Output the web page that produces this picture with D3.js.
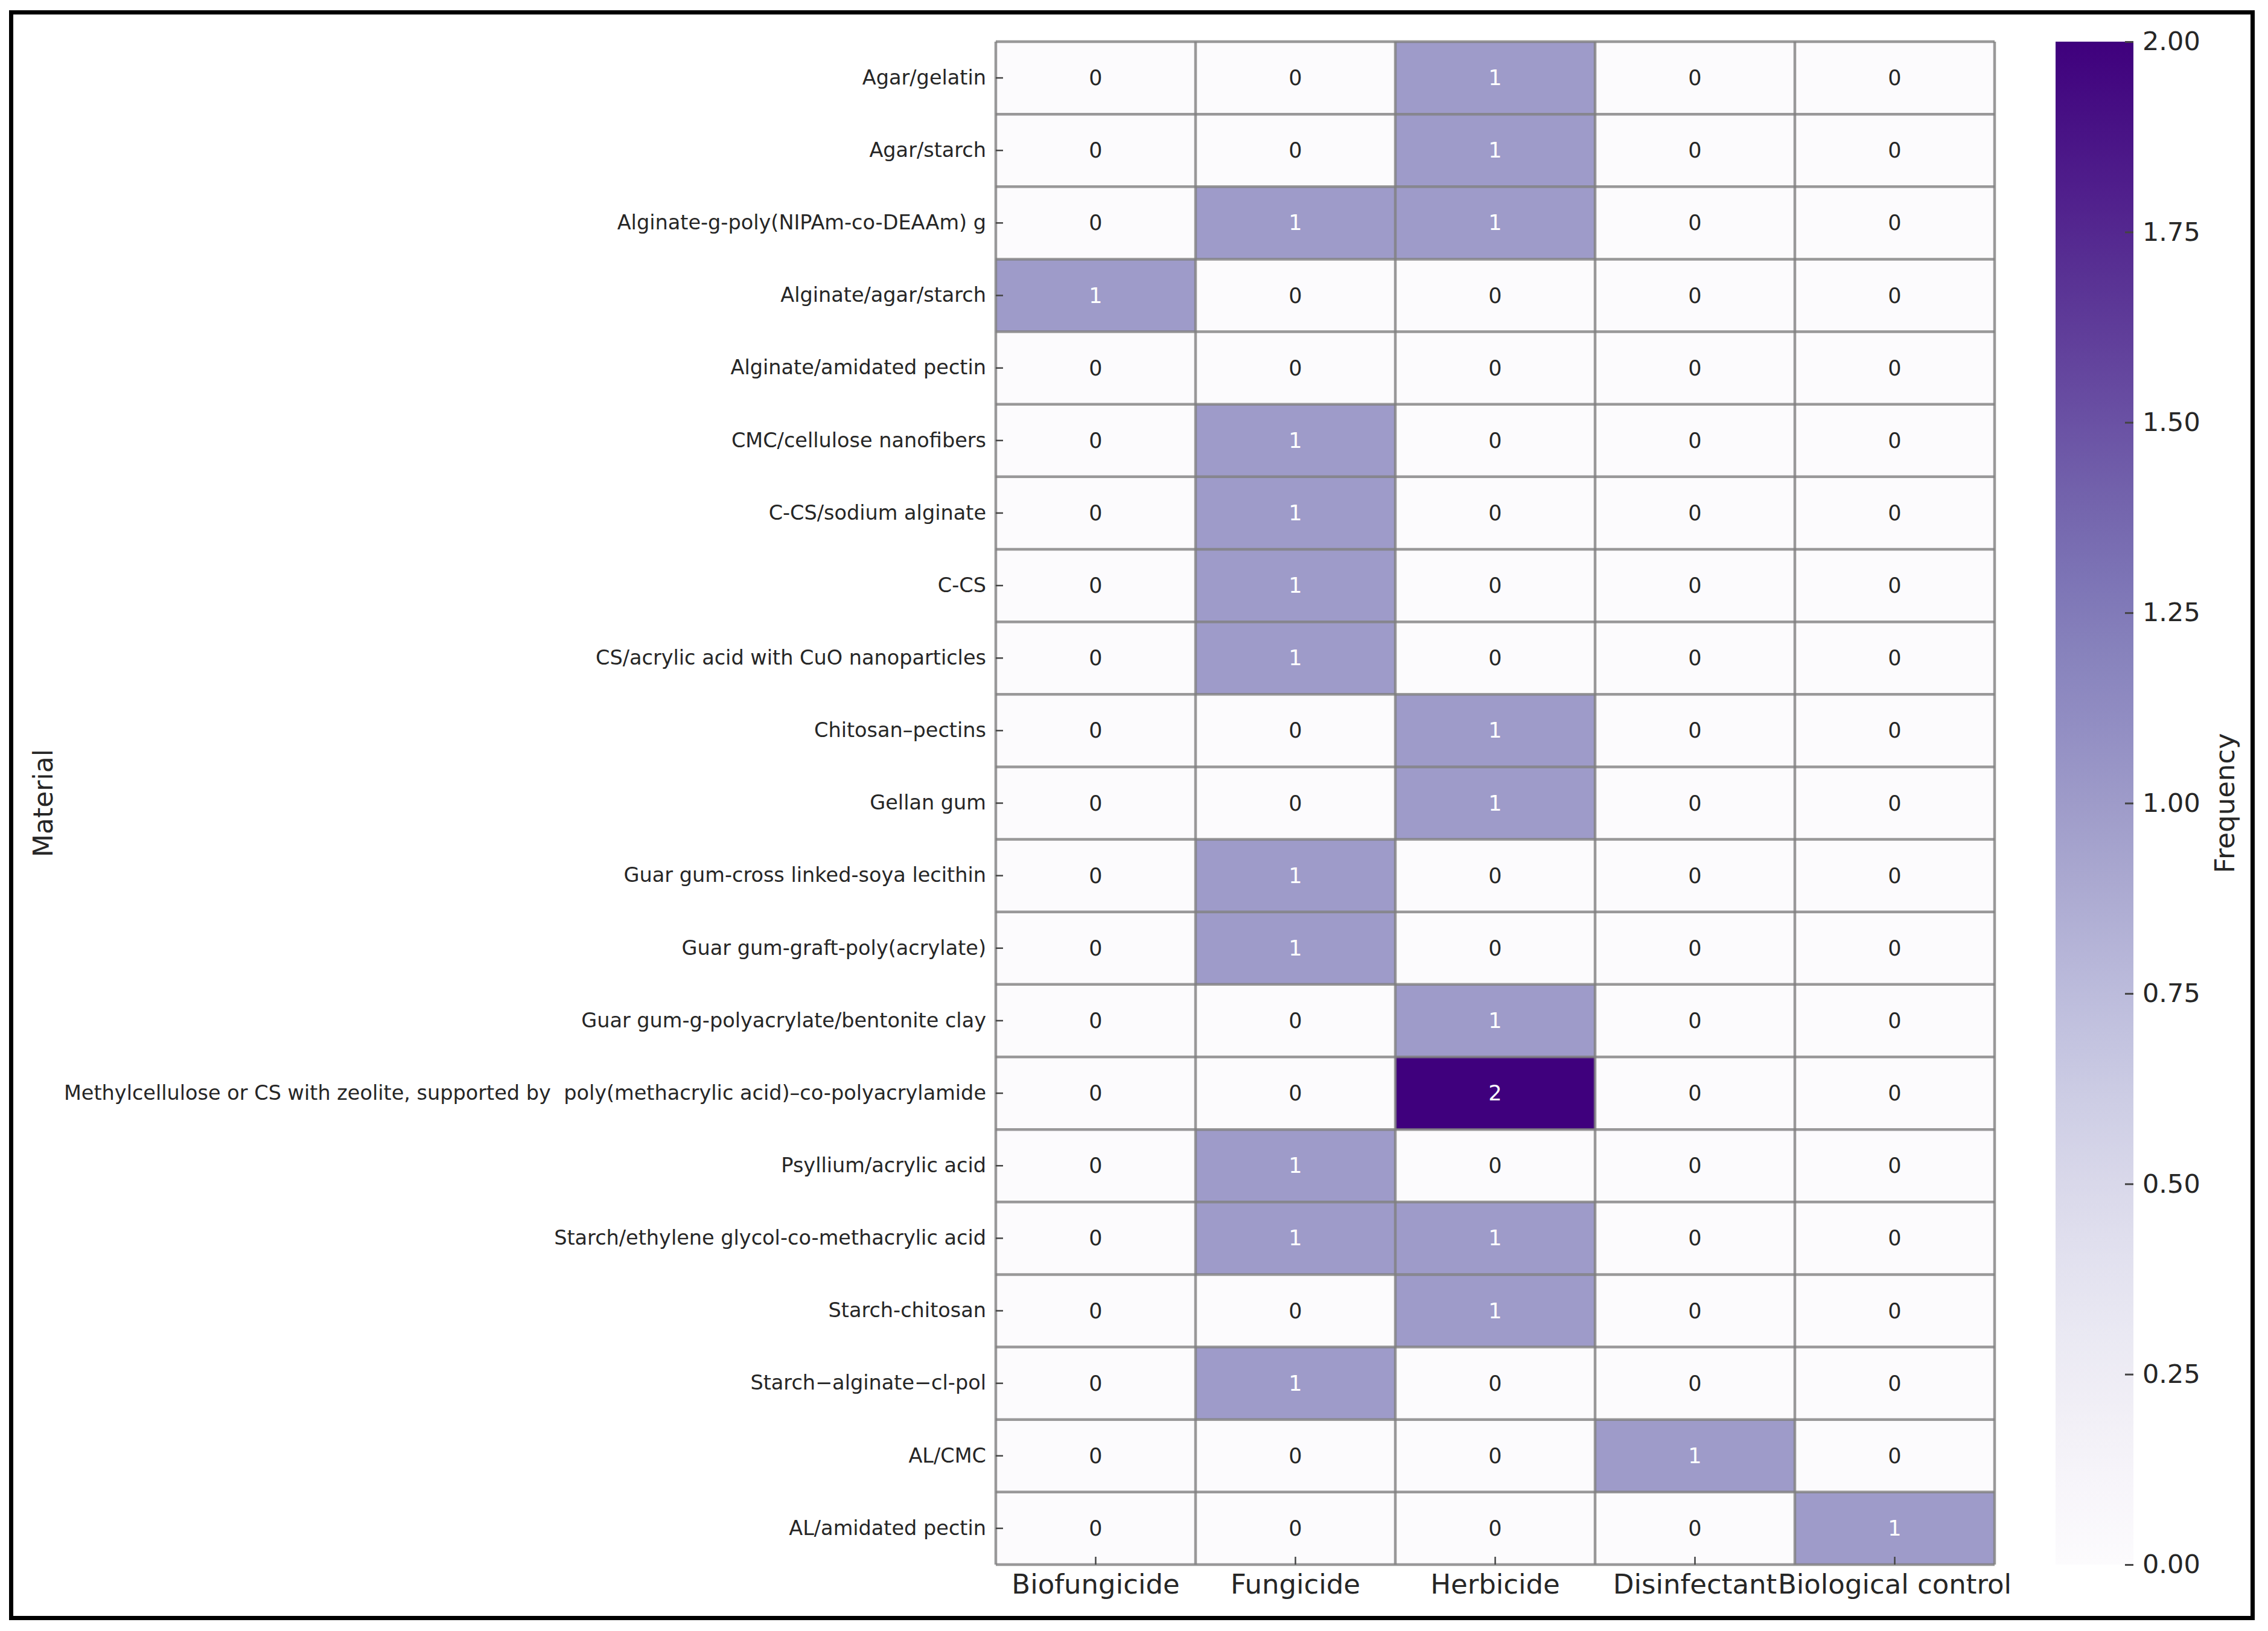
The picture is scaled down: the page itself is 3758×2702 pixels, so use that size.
<!DOCTYPE html>
<html>
<head>
<meta charset="utf-8">
<script src="https://cdn.jsdelivr.net/npm/d3@7"></script>
<style>
  body { margin: 0; background: #fff; }
  svg { display: block; font-family: "DejaVu Sans", sans-serif; }
</style>
</head>
<body>
<svg id="chart" width="3758" height="2702"></svg>
<script>
// data
const materials = [
  'Agar/gelatin',
  'Agar/starch',
  'Alginate-g-poly(NIPAm-co-DEAAm) g',
  'Alginate/agar/starch',
  'Alginate/amidated pectin',
  'CMC/cellulose nanofibers',
  'C-CS/sodium alginate',
  'C-CS',
  'CS/acrylic acid with CuO nanoparticles',
  'Chitosan\u2013pectins',
  'Gellan gum',
  'Guar gum-cross linked-soya lecithin',
  'Guar gum-graft-poly(acrylate)',
  'Guar gum-g-polyacrylate/bentonite clay',
  'Methylcellulose or CS with zeolite, supported by  poly(methacrylic acid)\u2013co-polyacrylamide',
  'Psyllium/acrylic acid',
  'Starch/ethylene glycol-co-methacrylic acid',
  'Starch-chitosan',
  'Starch\u2212alginate\u2212cl-pol',
  'AL/CMC',
  'AL/amidated pectin'
]
const uses = ['Biofungicide', 'Fungicide', 'Herbicide', 'Disinfectant', 'Biological control']
const counts = [
  [0, 0, 1, 0, 0],
  [0, 0, 1, 0, 0],
  [0, 1, 1, 0, 0],
  [1, 0, 0, 0, 0],
  [0, 0, 0, 0, 0],
  [0, 1, 0, 0, 0],
  [0, 1, 0, 0, 0],
  [0, 1, 0, 0, 0],
  [0, 1, 0, 0, 0],
  [0, 0, 1, 0, 0],
  [0, 0, 1, 0, 0],
  [0, 1, 0, 0, 0],
  [0, 1, 0, 0, 0],
  [0, 0, 1, 0, 0],
  [0, 0, 2, 0, 0],
  [0, 1, 0, 0, 0],
  [0, 1, 1, 0, 0],
  [0, 0, 1, 0, 0],
  [0, 1, 0, 0, 0],
  [0, 0, 0, 1, 0],
  [0, 0, 0, 0, 1]
]
const cbarTicks = [0, 0.25, 0.5, 0.75, 1, 1.25, 1.5, 1.75, 2]

const svg = d3.select('#chart')
const plotLeft = 1650, plotRight = 3305, plotTop = 69, plotBottom = 2592

const x = d3.scaleBand().domain(uses).range([plotLeft, plotRight])
const y = d3.scaleBand().domain(materials).range([plotTop, plotBottom])
const color = d3.scaleSequential(d3.interpolatePurples).domain([0, 2])

const cells = counts.flatMap((row, i) => row.map((v, j) => ({m: materials[i], u: uses[j], v})))

// cells
svg.append('g')
  .selectAll('rect')
  .data(cells)
  .join('rect')
  .attr('x', d => x(d.u))
  .attr('y', d => y(d.m))
  .attr('width', x.bandwidth())
  .attr('height', y.bandwidth())
  .attr('fill', d => color(d.v))

// grid lines between cells
const grid = svg.append('g')
  .attr('stroke', '#808080')
  .attr('stroke-opacity', 0.8)
  .attr('stroke-width', 4.5)
grid.selectAll('.h')
  .data(materials.map(m => y(m)).concat([plotBottom]))
  .join('line')
  .attr('class', 'h')
  .attr('x1', plotLeft).attr('x2', plotRight)
  .attr('y1', d => d).attr('y2', d => d)
grid.selectAll('.v')
  .data(uses.map(u => x(u)).concat([plotRight]))
  .join('line')
  .attr('class', 'v')
  .attr('y1', plotTop).attr('y2', plotBottom)
  .attr('x1', d => d).attr('x2', d => d)

// annotations
svg.append('g')
  .selectAll('text')
  .data(cells)
  .join('text')
  .attr('x', d => x(d.u) + x.bandwidth() / 2)
  .attr('y', d => y(d.m) + y.bandwidth() / 2)
  .attr('text-anchor', 'middle')
  .attr('dominant-baseline', 'central')
  .attr('font-size', 35)
  .attr('fill', d => d.v >= 1 ? '#ffffff' : '#262626')
  .text(d => d.v)

// axes
const yAxis = svg.append('g')
  .attr('transform', `translate(${plotLeft},0)`)
  .call(d3.axisLeft(y).tickSizeInner(-12).tickSizeOuter(0).tickPadding(16))
yAxis.select('.domain').remove()
yAxis.selectAll('.tick line').attr('stroke', '#444').attr('stroke-width', 2.5)
yAxis.selectAll('.tick text')
  .attr('font-size', 33.5).attr('font-family', 'DejaVu Sans').attr('fill', '#262626')
  .style('white-space', 'pre')

const xAxis = svg.append('g')
  .attr('transform', `translate(0,${plotBottom})`)
  .call(d3.axisBottom(x).tickSizeInner(-13).tickSizeOuter(0).tickPadding(16))
xAxis.select('.domain').remove()
xAxis.selectAll('.tick line').attr('stroke', '#444').attr('stroke-width', 2.5)
xAxis.selectAll('.tick text')
  .attr('font-size', 45).attr('font-family', 'DejaVu Sans').attr('fill', '#262626')

svg.append('text')
  .attr('transform', `translate(87,${(plotTop + plotBottom) / 2}) rotate(-90)`)
  .attr('text-anchor', 'middle')
  .attr('font-size', 44)
  .attr('fill', '#262626')
  .text('Material')

// colorbar
const cbX = 3406, cbW = 129
const cy = d3.scaleLinear().domain([0, 2]).range([plotBottom, plotTop])
const grad = svg.append('defs').append('linearGradient')
  .attr('id', 'cbar').attr('x1', 0).attr('y1', 1).attr('x2', 0).attr('y2', 0)
grad.selectAll('stop')
  .data(d3.range(0, 1.0001, 0.05))
  .join('stop')
  .attr('offset', d => d)
  .attr('stop-color', d => d3.interpolatePurples(d))
svg.append('rect')
  .attr('x', cbX).attr('y', plotTop)
  .attr('width', cbW).attr('height', plotBottom - plotTop)
  .attr('fill', 'url(#cbar)')

const cAxis = svg.append('g')
  .attr('transform', `translate(${cbX + cbW},0)`)
  .call(d3.axisRight(cy).tickValues(cbarTicks).tickFormat(d3.format('.2f'))
    .tickSizeInner(-14).tickSizeOuter(0).tickPadding(15))
cAxis.select('.domain').remove()
cAxis.selectAll('.tick line').attr('stroke', '#444').attr('stroke-width', 3)
cAxis.selectAll('.tick text')
  .attr('font-size', 43).attr('font-family', 'DejaVu Sans').attr('fill', '#262626')

svg.append('text')
  .attr('transform', `translate(3702,${(plotTop + plotBottom) / 2}) rotate(-90)`)
  .attr('text-anchor', 'middle')
  .attr('font-size', 45)
  .attr('fill', '#262626')
  .text('Frequency')

// figure frame
svg.append('rect')
  .attr('x', 18.5).attr('y', 20.5)
  .attr('width', 3714).attr('height', 2660)
  .attr('fill', 'none')
  .attr('stroke', '#000')
  .attr('stroke-width', 7)
</script>
</body>
</html>
